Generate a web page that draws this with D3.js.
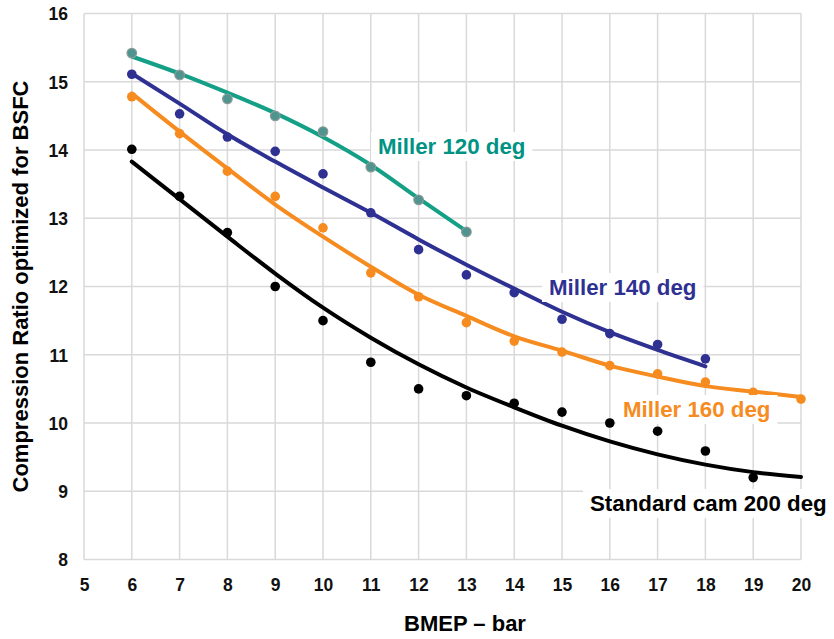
<!DOCTYPE html>
<html>
<head>
<meta charset="utf-8">
<script src="https://cdn.jsdelivr.net/npm/d3@7"></script>
<style>
  html, body { margin: 0; padding: 0; background: #fff; }
  svg { display: block; font-family: Arial, "Liberation Sans", sans-serif; }
</style>
</head>
<body>
<svg id="chart" width="834" height="639"></svg>
<script>
// ---- data ----
const xTicks = [5, 6, 7, 8, 9, 10, 11, 12, 13, 14, 15, 16, 17, 18, 19, 20];
const yTicks = [8, 9, 10, 11, 12, 13, 14, 15, 16];

const x120 = [6, 7, 8, 9, 10, 11, 12, 13];
const pts120 = [15.42, 15.10, 14.75, 14.50, 14.27, 13.75, 13.27, 12.80];
const fit120 = [15.37, 15.12, 14.84, 14.54, 14.19, 13.78, 13.29, 12.81];

const x140 = [6, 7, 8, 9, 10, 11, 12, 13, 14, 15, 16, 17, 18];
const pts140 = [15.11, 14.53, 14.19, 13.98, 13.65, 13.08, 12.54, 12.17, 11.91, 11.52, 11.31, 11.15, 10.94];
const fit140 = [15.12, 14.68, 14.23, 13.83, 13.45, 13.08, 12.69, 12.32, 11.97, 11.63, 11.33, 11.07, 10.83];

const x160 = [6, 7, 8, 9, 10, 11, 12, 13, 14, 15, 16, 17, 18, 19, 20];
const pts160 = [14.78, 14.24, 13.69, 13.32, 12.86, 12.20, 11.85, 11.47, 11.20, 11.04, 10.84, 10.72, 10.60, 10.45, 10.35];
const fit160 = [14.83, 14.27, 13.73, 13.20, 12.73, 12.29, 11.88, 11.57, 11.27, 11.06, 10.84, 10.68, 10.54, 10.46, 10.38];

const xStdPts = [6, 7, 8, 9, 10, 11, 12, 13, 14, 15, 16, 17, 18, 19];
const ptsStd = [14.01, 13.32, 12.79, 12.00, 11.50, 10.89, 10.50, 10.40, 10.29, 10.16, 10.00, 9.88, 9.59, 9.20];
const xStdFit = [6, 7, 8, 9, 10, 11, 12, 13, 14, 15, 16, 17, 18, 19, 20];
const fitStd = [13.83, 13.28, 12.73, 12.19, 11.69, 11.25, 10.86, 10.52, 10.23, 9.96, 9.73, 9.54, 9.39, 9.28, 9.21];

const series = [
  { name: "Miller 120 deg", xs: x120, pts: pts120, fxs: x120, fit: fit120,
    line: "#13a086", dot: "#4f948e", dotStroke: "#8a9a98", text: "#009384", lx: 378, ly: 154 },
  { name: "Miller 140 deg", xs: x140, pts: pts140, fxs: x140, fit: fit140,
    line: "#2e3192", dot: "#2e3192", dotStroke: "none", text: "#2e3192", lx: 549, ly: 295 },
  { name: "Miller 160 deg", xs: x160, pts: pts160, fxs: x160, fit: fit160,
    line: "#f68b1f", dot: "#f68b1f", dotStroke: "none", text: "#f68b1f", lx: 623, ly: 417 },
  { name: "Standard cam 200 deg", xs: xStdPts, pts: ptsStd, fxs: xStdFit, fit: fitStd,
    line: "#000000", dot: "#000000", dotStroke: "none", text: "#000000", lx: 590, ly: 511 }
];

// ---- layout ----
const svg = d3.select("#chart");
const mLeft = 84, mRight = 801, mTop = 13.5, mBottom = 559.5;
const x = d3.scaleLinear().domain([5, 20]).range([mLeft, mRight]);
const y = d3.scaleLinear().domain([8, 16]).range([mBottom, mTop]);

// grid
const grid = svg.append("g");
grid.selectAll("line.v").data(xTicks).join("line").attr("class", "v")
  .attr("x1", d => x(d)).attr("x2", d => x(d))
  .attr("y1", mTop).attr("y2", mBottom)
  .attr("stroke", "#d9d9d9").attr("stroke-width", 1.5);
grid.selectAll("line.h").data(yTicks).join("line").attr("class", "h")
  .attr("x1", mLeft).attr("x2", mRight)
  .attr("y1", d => y(d)).attr("y2", d => y(d))
  .attr("stroke", "#d9d9d9").attr("stroke-width", 1.5);

// axes (labels only)
const xAxis = d3.axisBottom(x).tickValues(xTicks).tickSize(0).tickPadding(0).tickFormat(d3.format("d"));
const gx = svg.append("g").attr("transform", `translate(0,${mBottom})`).call(xAxis);
gx.select(".domain").remove();
gx.selectAll("text").attr("dy", null).attr("y", 31)
  .attr("font-size", 17.5).attr("font-weight", "bold").attr("fill", "#111")
  .attr("font-family", "Arial, 'Liberation Sans', sans-serif");

const yAxis = d3.axisLeft(y).tickValues(yTicks).tickSize(0).tickPadding(0).tickFormat(d3.format("d"));
const gy = svg.append("g").attr("transform", `translate(${mLeft},0)`).call(yAxis);
gy.select(".domain").remove();
gy.selectAll("text").attr("x", -16).attr("dy", "0.36em")
  .attr("font-size", 17.5).attr("font-weight", "bold").attr("fill", "#111")
  .attr("font-family", "Arial, 'Liberation Sans', sans-serif");

// axis titles
svg.append("text")
  .attr("transform", `translate(28,${(mTop + mBottom) / 2}) rotate(-90)`)
  .attr("text-anchor", "middle")
  .attr("font-size", 22).attr("font-weight", "bold").attr("fill", "#000")
  .text("Compression Ratio optimized for BSFC");
svg.append("text")
  .attr("x", 465).attr("y", 631)
  .attr("text-anchor", "middle")
  .attr("font-size", 22).attr("font-weight", "bold").attr("fill", "#000")
  .text("BMEP \u2013 bar");

// series
const line = d3.line().x(d => x(d[0])).y(d => y(d[1])).curve(d3.curveMonotoneX);

series.forEach(s => {
  const g = svg.append("g");
  const fitData = s.fxs.map((xv, i) => [xv, s.fit[i]]);
  g.append("path").datum(fitData)
    .attr("d", line).attr("fill", "none")
    .attr("stroke", s.line).attr("stroke-width", 4).attr("stroke-linecap", "round");
  g.selectAll("circle").data(s.xs.map((xv, i) => [xv, s.pts[i]])).join("circle")
    .attr("cx", d => x(d[0])).attr("cy", d => y(d[1])).attr("r", 4.8)
    .attr("fill", s.dot)
    .attr("stroke", s.dotStroke).attr("stroke-width", s.dotStroke === "none" ? 0 : 1.2);
});

// labels with white background
series.forEach(s => {
  const g = svg.append("g");
  const bg = g.append("rect").attr("fill", "#fff").attr("fill-opacity", 0.95);
  const t = g.append("text")
    .attr("x", s.lx).attr("y", s.ly)
    .attr("font-size", 22.3).attr("font-weight", "bold").attr("fill", s.text)
    .text(s.name);
  const b = t.node().getBBox();
  bg.attr("x", b.x - 7).attr("y", b.y - 2).attr("width", b.width + 14).attr("height", b.height + 4);
});
</script>
</body>
</html>
